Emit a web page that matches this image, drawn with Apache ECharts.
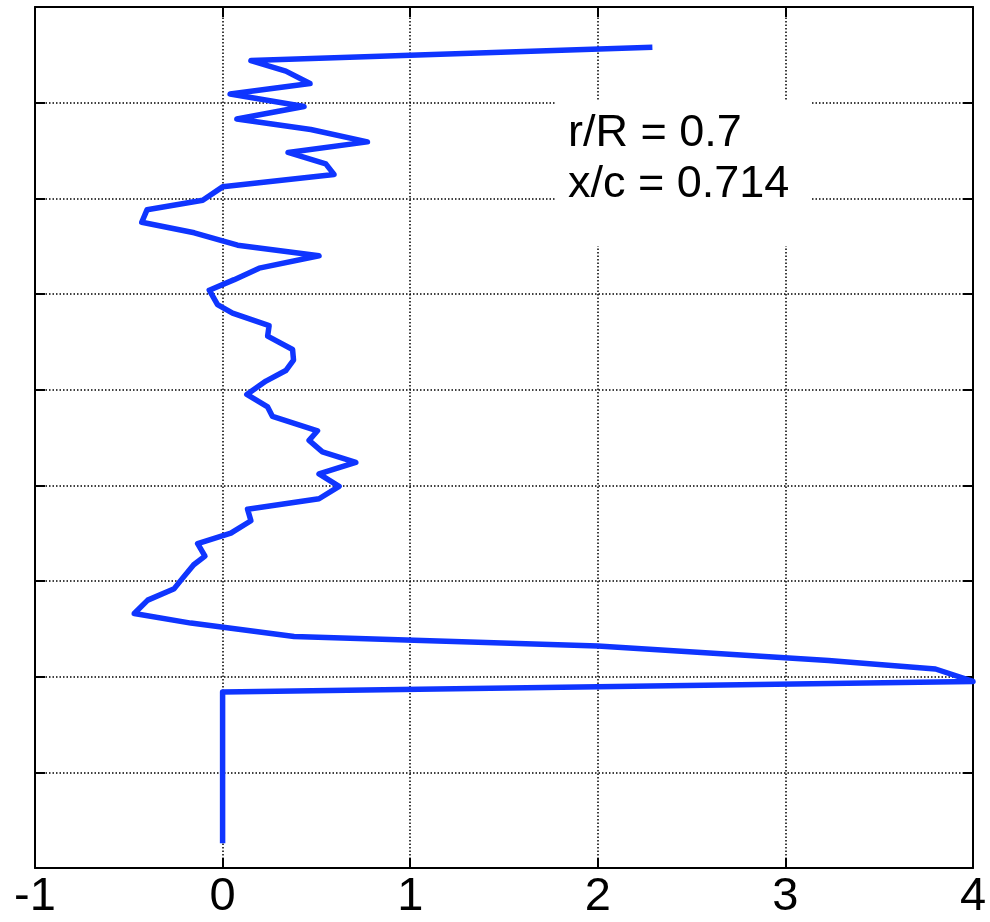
<!DOCTYPE html>
<html>
<head>
<meta charset="utf-8">
<style>
html, body { margin: 0; padding: 0; background: #fff; }
#main { width: 990px; height: 922px; }
</style>
<script src="https://cdn.jsdelivr.net/npm/echarts@6/dist/echarts.min.js"></script>
</head>
<body>
<div id="main"></div>
<script>
// profile, from the bottom end up to the top end
var profileX = [0, 0, 4.0, 3.80, 3.23, 2.0, 0.381, -0.169, -0.471, -0.399, -0.258, -0.213, -0.154, -0.094,
    -0.133, 0.044, 0.151, 0.133, 0.514, 0.621, 0.514, 0.710, 0.532, 0.461, 0.506, 0.266, 0.240, 0.129,
    0.231, 0.337, 0.378, 0.373, 0.240, 0.248, 0.053, -0.027, -0.071, 0.062, 0.195, 0.514, 0.080, -0.151,
    -0.431, -0.403, -0.106, 0.0, 0.594, 0.550, 0.349, 0.772, 0.470, 0.076, 0.434, 0.040, 0.466, 0.337,
    0.151, 2.291];
var profileY = [0.26, 1.84, 1.95, 2.08, 2.17, 2.32, 2.42, 2.56, 2.66, 2.80, 2.92, 3.03, 3.17, 3.26,
    3.39, 3.50, 3.63, 3.75, 3.86, 3.99, 4.12, 4.24, 4.35, 4.47, 4.57, 4.72, 4.82, 4.95,
    5.09, 5.20, 5.31, 5.42, 5.56, 5.67, 5.80, 5.89, 6.04, 6.15, 6.27, 6.40, 6.51, 6.64,
    6.75, 6.88, 6.98, 7.12, 7.25, 7.36, 7.48, 7.59, 7.72, 7.83, 7.96, 8.09, 8.20, 8.33,
    8.44, 8.58];
var xTicks = [-1, 0, 1, 2, 3, 4];
var noteLines = ['r/R = 0.7', 'x/c = 0.714'];

var myChart = echarts.init(document.getElementById('main'));

var data = [];
for (var i = 0; i < profileX.length; i++) {
    data.push([profileX[i], profileY[i]]);
}

var font = 'Liberation Sans, Arial, Helvetica, sans-serif';
var frame = { show: true, onZero: false, lineStyle: { color: '#000', width: 2 } };
var ticks = { show: true, inside: true, length: 10, lineStyle: { color: '#000', width: 2 } };
var dotted = { show: true, lineStyle: { color: '#000', width: 1.5, type: [1.5, 2] } };

var option = {
    animation: false,
    grid: { left: 35, right: 17, top: 7, bottom: 54 },
    xAxis: [{
        type: 'value',
        min: xTicks[0],
        max: xTicks[xTicks.length - 1],
        interval: 1,
        axisLine: frame,
        axisTick: ticks,
        splitLine: dotted,
        axisLabel: {
            color: '#000', fontSize: 47, fontFamily: font, margin: 6,
            formatter: function (v) { return String(v); }
        }
    }, {
        type: 'value',
        position: 'top',
        min: xTicks[0],
        max: xTicks[xTicks.length - 1],
        interval: 1,
        axisLine: frame,
        axisTick: ticks,
        splitLine: { show: false },
        axisLabel: { show: false }
    }],
    yAxis: [{
        type: 'value',
        min: 0,
        max: 9,
        interval: 1,
        axisLine: frame,
        axisTick: ticks,
        splitLine: dotted,
        axisLabel: { show: false }
    }, {
        type: 'value',
        position: 'right',
        min: 0,
        max: 9,
        interval: 1,
        axisLine: frame,
        axisTick: ticks,
        splitLine: { show: false },
        axisLabel: { show: false }
    }],
    graphic: [{
        type: 'rect',
        left: 555,
        top: 100,
        shape: { width: 256, height: 146 },
        style: { fill: '#fff' },
        z: 100
    }, {
        type: 'text',
        left: 568,
        top: 108,
        style: {
            text: noteLines.join('\n'),
            font: '45px ' + font,
            lineHeight: 51,
            fill: '#000'
        },
        z: 101
    }],
    series: [{
        type: 'line',
        data: data,
        showSymbol: false,
        lineStyle: { color: '#0f35ff', width: 5.5, join: 'round', cap: 'butt' },
        z: 5
    }]
};
myChart.setOption(option);
</script>
</body>
</html>
